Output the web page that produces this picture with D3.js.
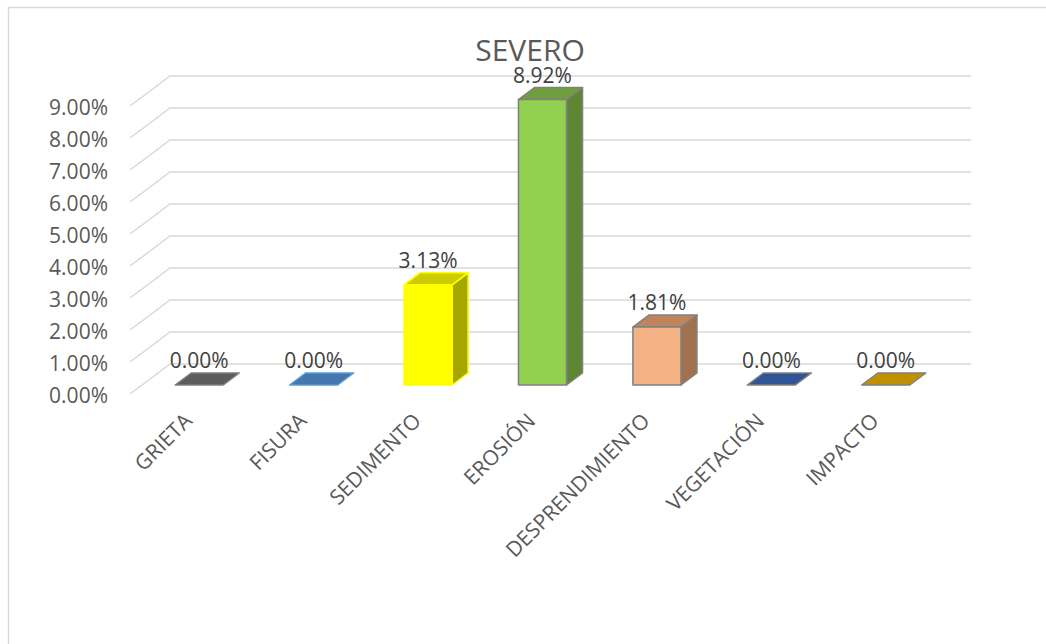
<!DOCTYPE html>
<html>
<head>
<meta charset="utf-8">
<script src="https://cdn.jsdelivr.net/npm/d3@7"></script>
<style>
  html, body { margin: 0; padding: 0; background: #fff; }
  svg { display: block; font-family: 'Open Sans', sans-serif; }
</style>
</head>
<body>
<div id="chart"></div>
<script>
// Chart data
const title = 'SEVERO'
const categories = ['GRIETA', 'FISURA', 'SEDIMENTO', 'EROSIÓN', 'DESPRENDIMIENTO', 'VEGETACIÓN', 'IMPACTO']
const values = [0, 0, 3.13, 8.92, 1.81, 0, 0] // percent
const yTicks = [0, 1, 2, 3, 4, 5, 6, 7, 8, 9]

// Face colours per bar (front, top, side, edge)
const frontColors = ['#636363', '#4a7ab5', '#ffff00', '#92d050', '#f4b183', '#2f5597', '#bf9000']
const topColors = ['#5c5c5c', '#4676ae', '#cccc00', '#6f9e3c', '#c0845d', '#2f5597', '#bf9000']
const sideColors = ['#4a4a4a', '#3a6090', '#a6a600', '#5e8734', '#a0714f', '#233f70', '#8f6c00']
const edgeColors = ['#7f7f7f', '#5b9bd5', '#ffff00', '#808080', '#808080', '#808080', '#808080']

const width = 1046
const height = 644

// 3D oblique depth: full floor depth shifts right by 40 and up by 30
const depthX = 40
const depthY = 30
const barFront = 0.3
const barBack = 0.7

const svg = d3
  .select('#chart')
  .append('svg')
  .attr('width', width)
  .attr('height', height)

// Chart border
svg
  .append('rect')
  .attr('x', 8.5)
  .attr('y', 7.5)
  .attr('width', 1100)
  .attr('height', 700)
  .attr('fill', '#fff')
  .attr('stroke', '#d9d9d9')
  .attr('stroke-width', 1.5)

// Scales (front plane)
const x = d3.scaleBand().domain(categories).range([130, 931]).padding(0)
const y = d3.scaleLinear().domain([0, 9]).range([394, 106])
const barWidth = x.bandwidth() * 0.42

// Project a point at depth d (0 front, 1 back)
const proj = (px, v, d) => [px + depthX * d, y(v) - depthY * d]

// Gridlines: diagonal side wall + back wall
svg
  .append('g')
  .selectAll('path')
  .data(yTicks)
  .join('path')
  .attr('d', (t) => {
    const a = proj(x.range()[0], t, 0)
    const b = proj(x.range()[0], t, 1)
    const c = proj(x.range()[1], t, 1)
    return `M${a}L${b}L${c}`
  })
  .attr('fill', 'none')
  .attr('stroke', '#d9d9d9')
  .attr('stroke-width', 1.5)

// Y axis labels
svg
  .append('g')
  .selectAll('text')
  .data(yTicks)
  .join('text')
  .attr('x', 108)
  .attr('y', (t) => y(t) + 2)
  .attr('dy', '0.35em')
  .attr('text-anchor', 'end')
  .attr('font-size', 21)
  .attr('fill', '#595959')
  .text((t) => d3.format('.2f')(t) + '%')

// Title
svg
  .append('text')
  .attr('x', 530)
  .attr('y', 61)
  .attr('text-anchor', 'middle')
  .attr('font-size', 30)
  .attr('fill', '#595959')
  .text(title)

// Bars
const bars = svg
  .append('g')
  .selectAll('g')
  .data(categories.map((c, i) => ({ c, v: values[i], i })))
  .join('g')

bars.each(function (d) {
  const g = d3.select(this)
  const left = x(d.c) + (x.bandwidth() - barWidth) / 2
  const right = left + barWidth
  const fl0 = proj(left, 0, barFront)
  const fr0 = proj(right, 0, barFront)
  const flv = proj(left, d.v, barFront)
  const frv = proj(right, d.v, barFront)
  const blv = proj(left, d.v, barBack)
  const brv = proj(right, d.v, barBack)
  const br0 = proj(right, 0, barBack)

  const stroke = edgeColors[d.i]

  // Side face
  if (d.v > 0) {
    g.append('path')
      .attr('d', `M${fr0}L${frv}L${brv}L${br0}Z`)
      .attr('fill', sideColors[d.i])
      .attr('stroke', stroke)
      .attr('stroke-width', 1.5)
      .attr('stroke-linejoin', 'round')
  }

  // Top face
  g.append('path')
    .attr('d', `M${flv}L${frv}L${brv}L${blv}Z`)
    .attr('fill', topColors[d.i])
    .attr('stroke', stroke)
    .attr('stroke-width', 1.5)
    .attr('stroke-linejoin', 'round')

  // Front face
  if (d.v > 0) {
    g.append('path')
      .attr('d', `M${fl0}L${flv}L${frv}L${fr0}Z`)
      .attr('fill', frontColors[d.i])
      .attr('stroke', stroke)
      .attr('stroke-width', 1.5)
      .attr('stroke-linejoin', 'round')
  }

  // Data label above the bar
  g.append('text')
    .attr('x', (flv[0] + frv[0]) / 2)
    .attr('y', flv[1] - 24)
    .attr('dy', '0.35em')
    .attr('text-anchor', 'middle')
    .attr('font-size', 21)
    .attr('fill', '#404040')
    .text(d3.format('.2f')(d.v) + '%')
})

// Category labels, rotated
svg
  .append('g')
  .selectAll('text')
  .data(categories)
  .join('text')
  .attr('transform', (c) => `translate(${x(c) + x.bandwidth() / 2 + 1},417) rotate(-45)`)
  .attr('dy', '0.35em')
  .attr('text-anchor', 'end')
  .attr('font-size', 21)
  .attr('fill', '#595959')
  .text((c) => c)
</script>
</body>
</html>
